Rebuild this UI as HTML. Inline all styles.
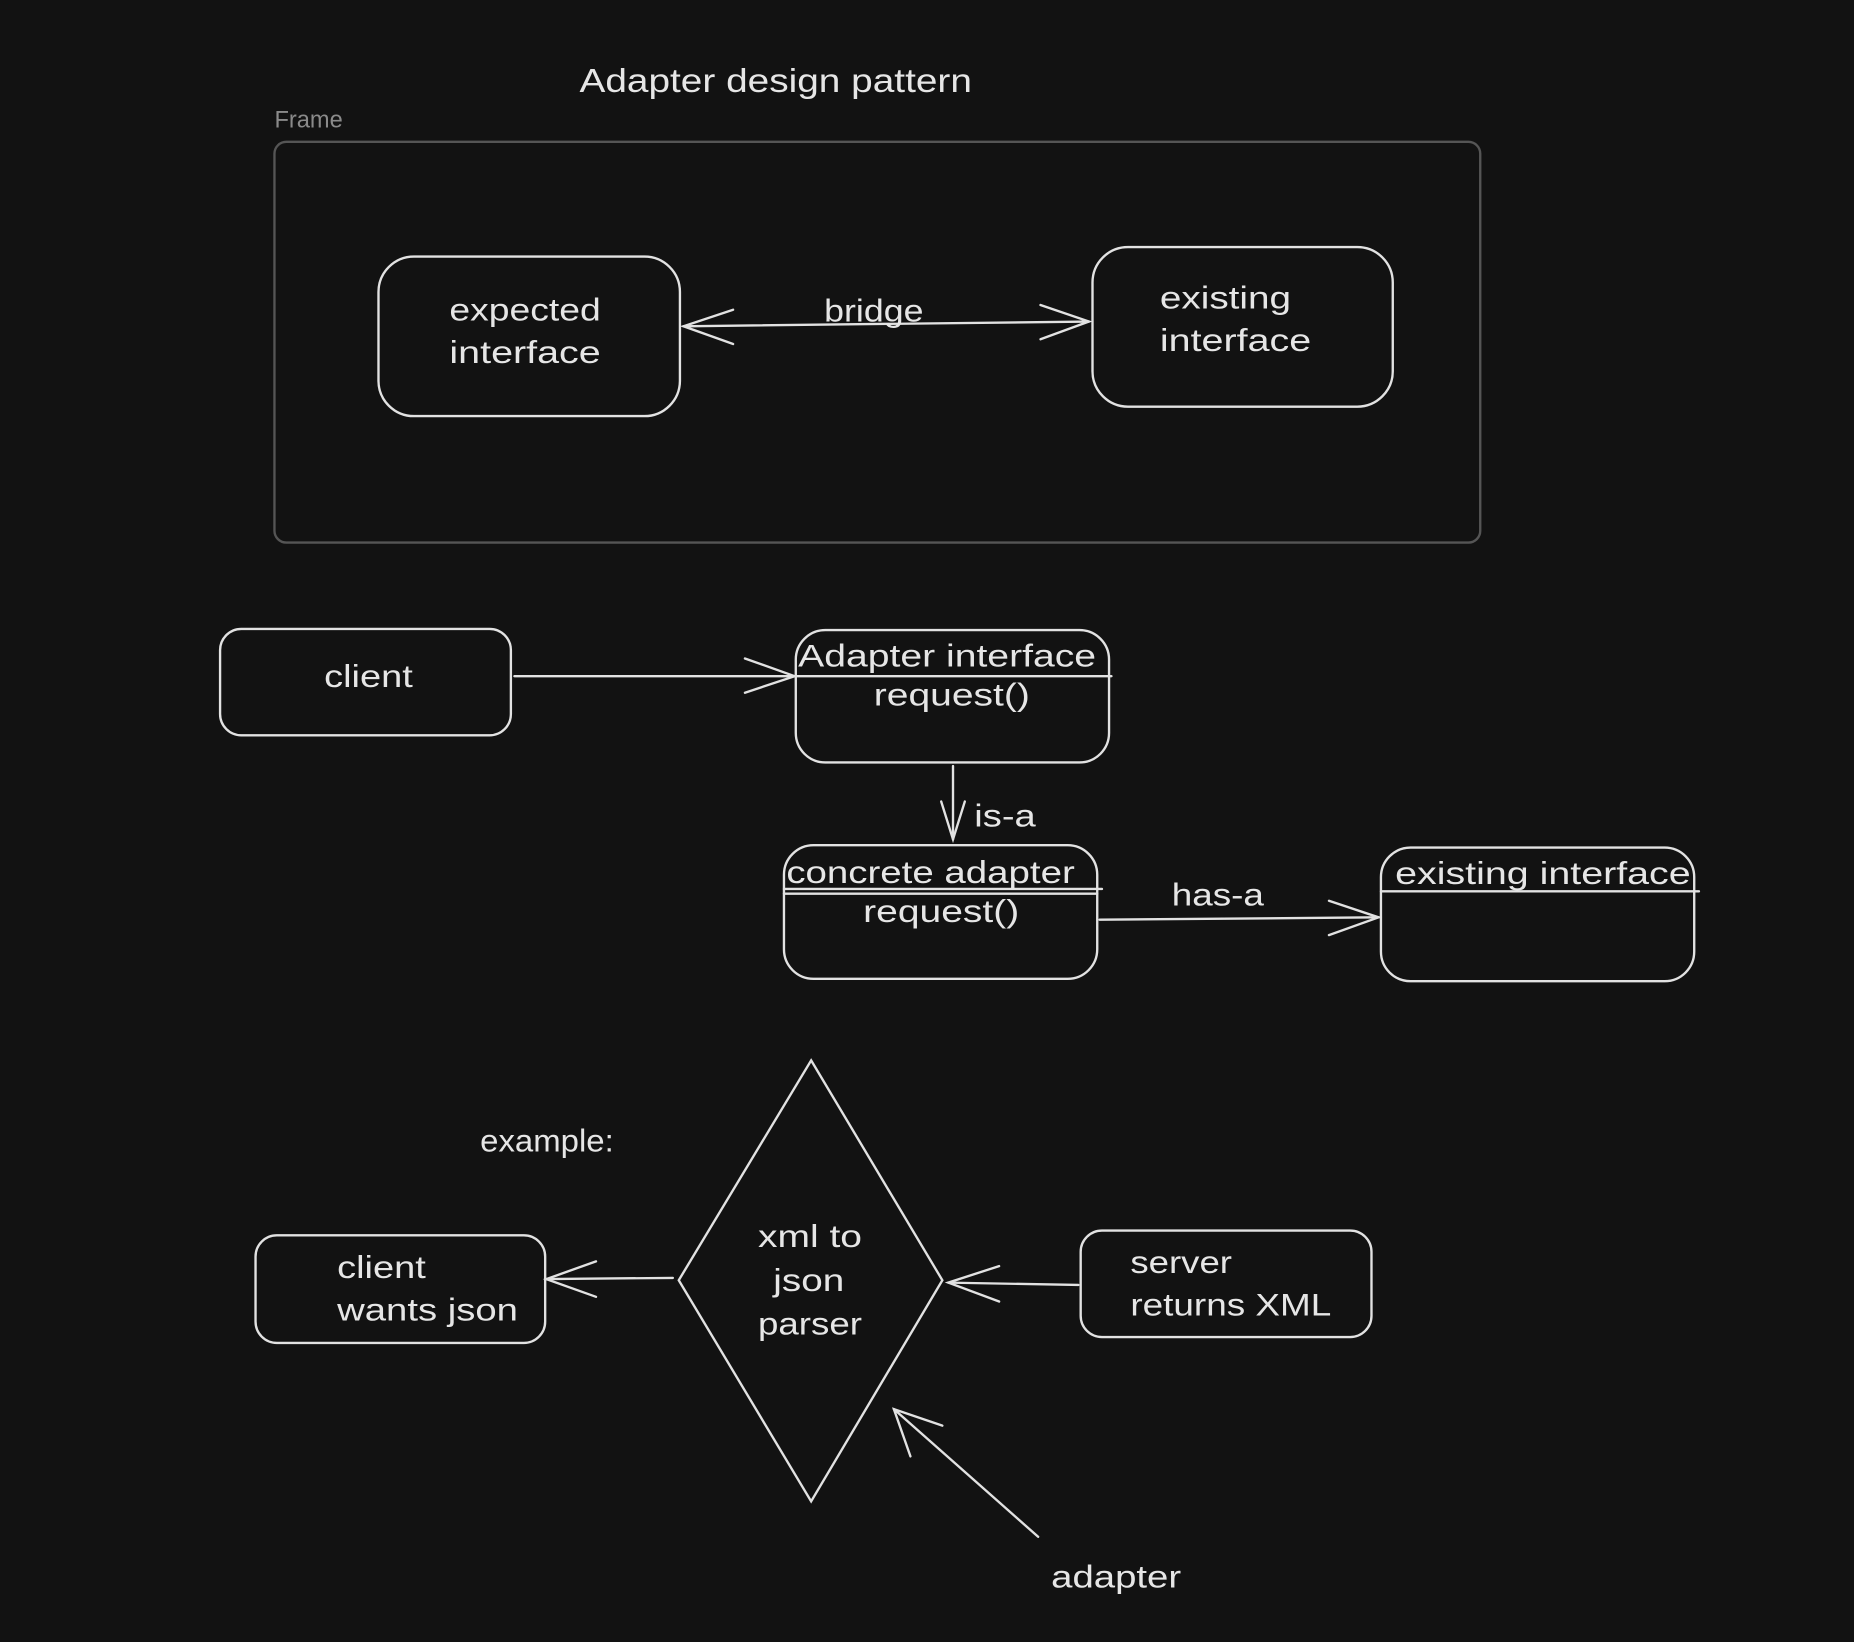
<!DOCTYPE html>
<html><head><meta charset="utf-8"><style>
html,body{margin:0;padding:0;background:#121212;}
svg{display:block}
text{font-family:"Liberation Sans",sans-serif;fill:#e6e6e6;}
</style></head><body>
<svg width="1854" height="1642" viewBox="0 0 1568 1389" xmlns="http://www.w3.org/2000/svg">
<rect width="1568" height="1389" fill="#121212"/>
<g stroke="#e2e2e2" stroke-width="2" fill="none" stroke-linecap="round">
<rect x="232" y="120" width="1020" height="339" rx="10" stroke="#555"/>
<rect x="320" y="217" width="255" height="135" rx="30"/>
<rect x="924" y="209" width="254" height="135" rx="30"/>
<line x1="578" y1="276" x2="921" y2="272"/>
<polyline points="620,262 578,276 620,291"/>
<polyline points="880,258 921,272 880,287"/>
<rect x="186" y="532" width="246" height="90" rx="18"/>
<line x1="435" y1="572" x2="672" y2="572"/>
<polyline points="630,557 672,572 630,586"/>
<rect x="673" y="533" width="265" height="112" rx="25"/>
<line x1="673" y1="572" x2="940" y2="572"/>
<line x1="806" y1="648" x2="806" y2="710"/>
<polyline points="796,678 806,710 816,678"/>
<rect x="663" y="715" width="265" height="113" rx="25"/>
<line x1="663" y1="752" x2="932" y2="752"/>
<line x1="663" y1="756" x2="928" y2="756"/>
<line x1="930" y1="778" x2="1166" y2="776"/>
<polyline points="1124,762 1166,776 1124,791"/>
<rect x="1168" y="717" width="265" height="113" rx="25"/>
<line x1="1168" y1="754" x2="1437" y2="754"/>
<polygon points="686,897 797,1083 686,1270 574,1083"/>
<rect x="216" y="1045" width="245" height="91" rx="18"/>
<line x1="569" y1="1081" x2="462" y2="1082"/>
<polyline points="504,1067 462,1082 504,1097"/>
<rect x="914" y="1041" width="246" height="90" rx="18"/>
<line x1="912" y1="1087" x2="802" y2="1085"/>
<polyline points="845,1071 802,1085 845,1101"/>
<line x1="878" y1="1300" x2="756" y2="1192"/>
<polyline points="797,1206 756,1192 770,1232"/>
</g>
<text x="490" y="78" font-size="28" textLength="332" lengthAdjust="spacingAndGlyphs">Adapter design pattern</text>
<text x="232" y="108" font-size="20" style="fill:#8a8a8a">Frame</text>
<g font-size="27">
<text x="380" y="271" textLength="128" lengthAdjust="spacingAndGlyphs">expected</text>
<text x="380" y="307" textLength="128" lengthAdjust="spacingAndGlyphs">interface</text>
<text x="697" y="272" textLength="84" lengthAdjust="spacingAndGlyphs">bridge</text>
<text x="274" y="581" textLength="75" lengthAdjust="spacingAndGlyphs">client</text>
<text x="675" y="564" textLength="252" lengthAdjust="spacingAndGlyphs">Adapter interface</text>
<text x="739" y="597" textLength="132" lengthAdjust="spacingAndGlyphs">request()</text>
<text x="665" y="747" textLength="244" lengthAdjust="spacingAndGlyphs">concrete adapter</text>
<text x="730" y="780" textLength="132" lengthAdjust="spacingAndGlyphs">request()</text>
<text x="1180" y="748" textLength="250" lengthAdjust="spacingAndGlyphs">existing interface</text>
<text x="641" y="1055" textLength="88" lengthAdjust="spacingAndGlyphs">xml to</text>
<text x="654" y="1092" textLength="60" lengthAdjust="spacingAndGlyphs">json</text>
<text x="641" y="1129" textLength="88" lengthAdjust="spacingAndGlyphs">parser</text>
<text x="981" y="261" textLength="111" lengthAdjust="spacingAndGlyphs">existing</text>
<text x="981" y="297" textLength="128" lengthAdjust="spacingAndGlyphs">interface</text>
<text x="824" y="699" textLength="52" lengthAdjust="spacingAndGlyphs">is-a</text>
<text x="991" y="766" textLength="78" lengthAdjust="spacingAndGlyphs">has-a</text>
<text x="406" y="974" textLength="113" lengthAdjust="spacingAndGlyphs">example:</text>
<text x="285" y="1081" textLength="75" lengthAdjust="spacingAndGlyphs">client</text>
<text x="285" y="1117" textLength="153" lengthAdjust="spacingAndGlyphs">wants json</text>
<text x="956" y="1077" textLength="86" lengthAdjust="spacingAndGlyphs">server</text>
<text x="956" y="1113" textLength="170" lengthAdjust="spacingAndGlyphs">returns XML</text>
<text x="889" y="1343" textLength="110" lengthAdjust="spacingAndGlyphs">adapter</text>
</g>
</svg>
</body></html>
